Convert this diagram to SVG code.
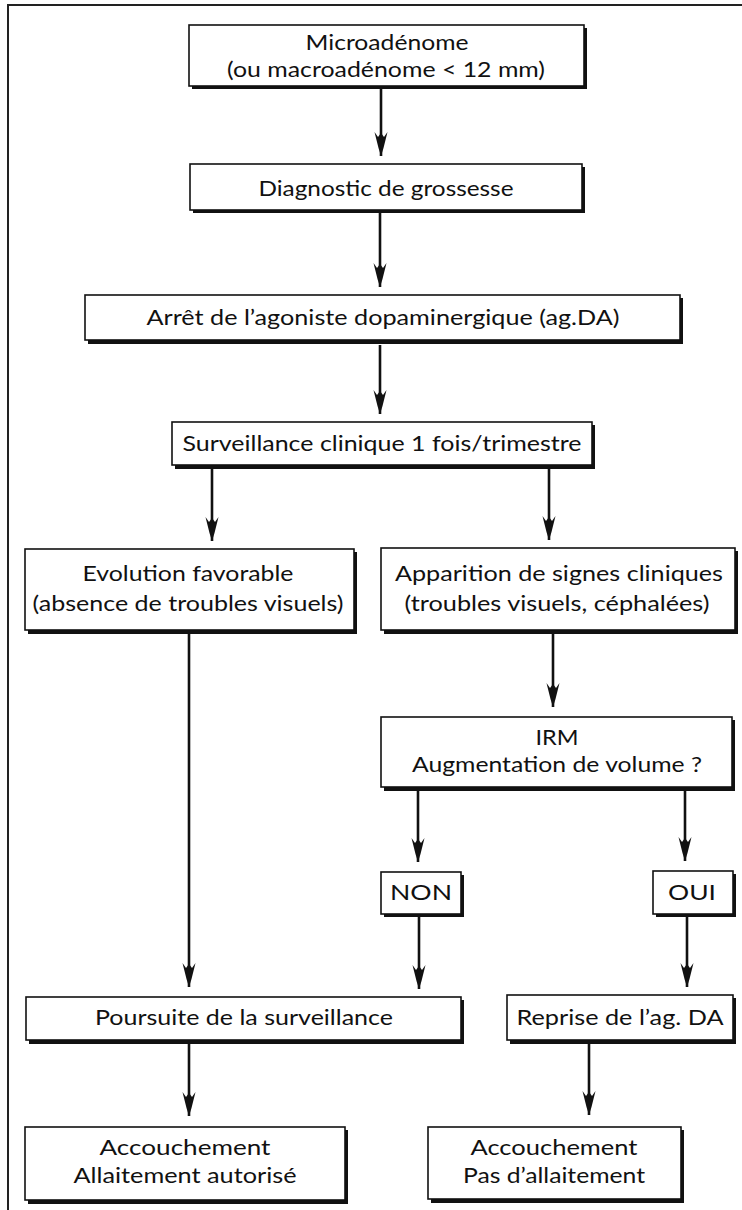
<svg xmlns="http://www.w3.org/2000/svg" width="742" height="1210" viewBox="0 0 742 1210">
<style>
.box{fill:#fff;stroke:#111;stroke-width:1.6}
.sh{fill:#111}
.t{font-family:Lato,"Open Sans","Liberation Sans",sans-serif;font-size:22px;fill:#111;text-anchor:middle}
.c{stroke:#111;stroke-width:2.6;fill:none;marker-end:url(#ah)}
.frame{stroke:#222;stroke-width:2;fill:none}
</style>
<defs>
<marker id="ah" markerUnits="userSpaceOnUse" viewBox="0 0 24 16" refX="24" refY="8" markerWidth="24" markerHeight="16" orient="auto">
<path d="M0,1.5 L5,5 L1,8 L5,11 L0,14.5 L16,10.5 L24,8 L16,5.5 Z" fill="#111"/>
</marker>
</defs>
<rect width="742" height="1210" fill="#fff"/>
<path class="frame" d="M8,1210 L8,5 L742,5"/>

<g id="connectors">
<line class="c" x1="381" y1="89" x2="381" y2="156"/>
<line class="c" x1="380" y1="213" x2="380" y2="287"/>
<line class="c" x1="380" y1="345" x2="380" y2="414"/>
<line class="c" x1="212" y1="468" x2="212" y2="541"/>
<line class="c" x1="549" y1="468" x2="549" y2="540"/>
<line class="c" x1="189" y1="633" x2="189" y2="987"/>
<line class="c" x1="553" y1="633" x2="553" y2="707"/>
<line class="c" x1="418" y1="790" x2="418" y2="862"/>
<line class="c" x1="685" y1="790" x2="685" y2="861"/>
<line class="c" x1="419" y1="917" x2="419" y2="989"/>
<line class="c" x1="687" y1="917" x2="687" y2="987"/>
<line class="c" x1="189" y1="1043" x2="189" y2="1116"/>
<line class="c" x1="589" y1="1043" x2="589" y2="1115"/>
</g>

<g id="n1">
<rect class="sh" x="192" y="28" width="395" height="61"/>
<rect class="box" x="189" y="25" width="395" height="61"/>
<text class="t" x="387" y="50" textLength="163" lengthAdjust="spacingAndGlyphs">Microadénome</text>
<text class="t" x="386" y="77" textLength="318" lengthAdjust="spacingAndGlyphs">(ou macroadénome &lt; 12 mm)</text>
</g>
<g id="n2">
<rect class="sh" x="193" y="167" width="392" height="46"/>
<rect class="box" x="190" y="164" width="392" height="46"/>
<text class="t" x="386" y="196" textLength="255" lengthAdjust="spacingAndGlyphs">Diagnostic de grossesse</text>
</g>
<g id="n3">
<rect class="sh" x="88" y="298" width="595" height="46"/>
<rect class="box" x="85" y="295" width="595" height="45"/>
<text class="t" x="383" y="325" textLength="473" lengthAdjust="spacingAndGlyphs">Arrêt de l’agoniste dopaminergique (ag.DA)</text>
</g>
<g id="n4">
<rect class="sh" x="175" y="425" width="420" height="44"/>
<rect class="box" x="172" y="422" width="420" height="43"/>
<text class="t" x="382" y="451" textLength="399" lengthAdjust="spacingAndGlyphs">Surveillance clinique 1 fois/trimestre</text>
</g>
<g id="n5">
<rect class="sh" x="28" y="552" width="329" height="82"/>
<rect class="box" x="25" y="549" width="329" height="81"/>
<text class="t" x="188" y="581" textLength="211" lengthAdjust="spacingAndGlyphs">Evolution favorable</text>
<text class="t" x="188" y="611" textLength="311" lengthAdjust="spacingAndGlyphs">(absence de troubles visuels)</text>
</g>
<g id="n6">
<rect class="sh" x="384" y="551" width="354" height="83"/>
<rect class="box" x="381" y="548" width="354" height="82"/>
<text class="t" x="559" y="581" textLength="328" lengthAdjust="spacingAndGlyphs">Apparition de signes cliniques</text>
<text class="t" x="557" y="611" textLength="305" lengthAdjust="spacingAndGlyphs">(troubles visuels, céphalées)</text>
</g>
<g id="n7">
<rect class="sh" x="384" y="720" width="351" height="71"/>
<rect class="box" x="381" y="717" width="351" height="70"/>
<text class="t" x="557" y="745" textLength="43" lengthAdjust="spacingAndGlyphs">IRM</text>
<text class="t" x="557" y="772" textLength="290" lengthAdjust="spacingAndGlyphs">Augmentation de volume ?</text>
</g>
<g id="n8">
<rect class="sh" x="384" y="875" width="80" height="42"/>
<rect class="box" x="381" y="872" width="80" height="42"/>
<text class="t" x="421" y="900" textLength="62" lengthAdjust="spacingAndGlyphs">NON</text>
</g>
<g id="n9">
<rect class="sh" x="656" y="874" width="80" height="43"/>
<rect class="box" x="653" y="871" width="80" height="43"/>
<text class="t" x="692" y="900" textLength="48" lengthAdjust="spacingAndGlyphs">OUI</text>
</g>
<g id="n10">
<rect class="sh" x="29" y="1000" width="435" height="44"/>
<rect class="box" x="26" y="997" width="435" height="43"/>
<text class="t" x="244" y="1025" textLength="298" lengthAdjust="spacingAndGlyphs">Poursuite de la surveillance</text>
</g>
<g id="n11">
<rect class="sh" x="510" y="998" width="226" height="46"/>
<rect class="box" x="507" y="995" width="226" height="45"/>
<text class="t" x="620" y="1025" textLength="207" lengthAdjust="spacingAndGlyphs">Reprise de l’ag. DA</text>
</g>
<g id="n12">
<rect class="sh" x="28" y="1130" width="320" height="74"/>
<rect class="box" x="25" y="1127" width="320" height="73"/>
<text class="t" x="185" y="1155" textLength="171" lengthAdjust="spacingAndGlyphs">Accouchement</text>
<text class="t" x="185" y="1183" textLength="223" lengthAdjust="spacingAndGlyphs">Allaitement autorisé</text>
</g>
<g id="n13">
<rect class="sh" x="431" y="1130" width="253" height="73"/>
<rect class="box" x="428" y="1127" width="253" height="72"/>
<text class="t" x="554" y="1155" textLength="167" lengthAdjust="spacingAndGlyphs">Accouchement</text>
<text class="t" x="554" y="1183" textLength="182" lengthAdjust="spacingAndGlyphs">Pas d’allaitement</text>
</g>
</svg>
